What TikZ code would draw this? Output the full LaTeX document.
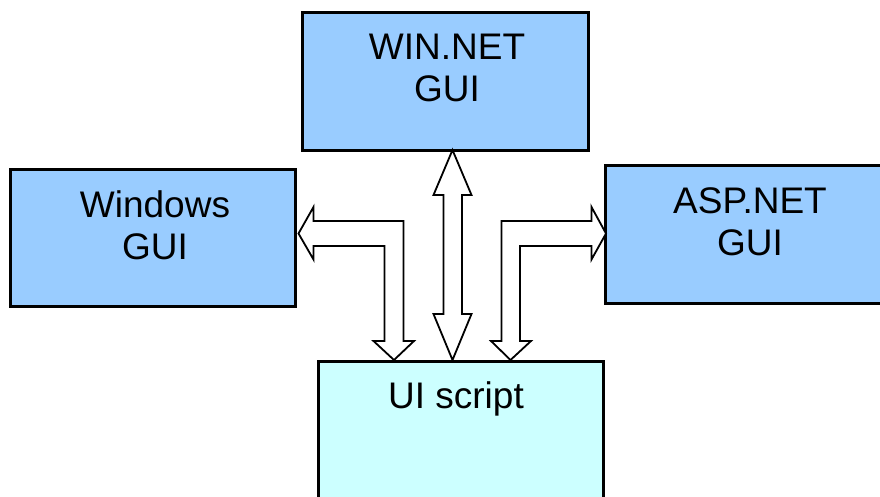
\documentclass[tikz,border=0pt]{standalone}
\usepackage{fontspec}
\setmainfont{Liberation Sans}
\definecolor{guiblue}{HTML}{99CCFF}
\definecolor{scriptcyan}{HTML}{CCFFFF}
\begin{document}
\begin{tikzpicture}[x=1pt,y=-1pt,
  box/.style={draw=black,line width=3pt,inner sep=0pt,minimum width=286pt,minimum height=138pt},
  lbl/.style={font=\fontsize{37}{42}\selectfont,align=center,anchor=base,inner sep=0pt},
  blockarrow/.style={draw=black,fill=white,line width=1.8pt,line join=miter}]
\useasboundingbox (0,0) rectangle (880,496);
\fill[white] (0,0) rectangle (880,496);
% boxes
\node[box,fill=guiblue] (win) at (445,81) {};
\node[box,fill=guiblue,minimum width=285pt,minimum height=137.5pt] (windows) at (152.5,237.75) {};
\node[box,fill=guiblue] (asp) at (748,234) {};
\node[box,fill=scriptcyan,minimum width=285pt] (ui) at (460.5,430) {};
% labels (base anchor = baseline of last line)
\node[lbl] (winT) at (447,101) {WIN.NET\\GUI};
\node[lbl] (windowsT) at (155,259) {Windows\\GUI};
\node[lbl] (aspT) at (750,255) {ASP.NET\\GUI};
\node[lbl] (uiT) at (456,408) {UI script};
% block arrows
\draw[blockarrow] (452.5,150) -- (433.5,195) -- (443.5,195) -- (443.5,314) -- (433.5,314)
  -- (452.5,360) -- (471.5,314) -- (462,314) -- (462,195) -- (471.5,195) -- cycle;
\draw[blockarrow] (298.5,233.5) -- (313.5,207) -- (313.5,221) -- (403.5,221) -- (403.5,341)
  -- (414,341) -- (394,360) -- (373.5,341) -- (384.5,341) -- (384.5,246) -- (313.5,246)
  -- (313.5,259.5) -- cycle;
\draw[blockarrow] (606,233.5) -- (591.5,207) -- (591.5,221) -- (501.5,221) -- (501.5,341)
  -- (491,341) -- (510.5,360) -- (531,341) -- (520,341) -- (520,246) -- (591.5,246)
  -- (591.5,259.5) -- cycle;
\end{tikzpicture}
\end{document}
